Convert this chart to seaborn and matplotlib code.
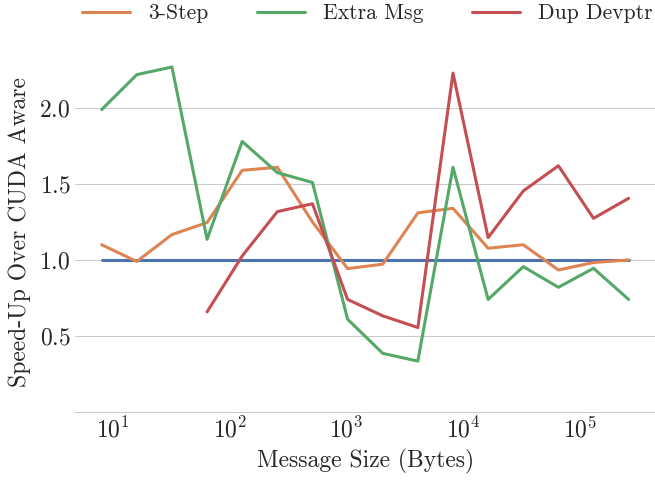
import numpy as np
import pandas as pd
import matplotlib
matplotlib.use("Agg")
import matplotlib.pyplot as plt
import seaborn as sns

# message sizes in bytes (x axis, log scale)
sizes = [8, 16, 32, 64, 128, 256, 512, 1024, 2048, 4096, 8192,
         16384, 32768, 65536, 131072, 262144]
# speed-up over the CUDA aware baseline
cuda_aware = [1.0] * 16
three_step = [1.10, 0.99, 1.167, 1.246, 1.59, 1.61, 1.25, 0.943, 0.972, 1.31, 1.34,
              1.077, 1.10, 0.934, 0.983, 1.00]
extra_msg = [1.99, 2.22, 2.27, 1.136, 1.78, 1.575, 1.51, 0.61, 0.385, 0.334, 1.61,
             0.74, 0.956, 0.82, 0.945, 0.74]
dup_devptr = [np.nan, np.nan, np.nan, 0.658, 1.026, 1.318, 1.37, 0.74, 0.632, 0.555, 2.23,
              1.147, 1.454, 1.62, 1.274, 1.406]

df = pd.DataFrame({"size": sizes, "CUDA Aware": cuda_aware, "3-Step": three_step,
                   "Extra Msg": extra_msg, "Dup Devptr": dup_devptr})

sns.set_style("whitegrid")
plt.rcParams["font.family"] = ["cmr10", "DejaVu Sans"]
plt.rcParams["mathtext.fontset"] = "cm"
plt.rcParams["axes.formatter.use_mathtext"] = True
pal = sns.color_palette("deep")

fig, ax = plt.subplots(figsize=(6.55, 4.8), dpi=100)
fig.subplots_adjust(left=0.115, right=1.0, bottom=0.142, top=0.892)

sns.lineplot(data=df, x="size", y="CUDA Aware", color=pal[0], lw=2.2, ax=ax, label="_nolegend_")
sns.lineplot(data=df, x="size", y="3-Step", color=pal[1], lw=2.2, ax=ax, label="3-Step")
sns.lineplot(data=df, x="size", y="Extra Msg", color=pal[2], lw=2.2, ax=ax, label="Extra Msg")
sns.lineplot(data=df.dropna(), x="size", y="Dup Devptr", color=pal[3], lw=2.2, ax=ax, label="Dup Devptr")

ax.set_xscale("log")
ax.set_ylim(0, 2.37)
ax.set_yticks([0.5, 1.0, 1.5, 2.0])
ax.grid(axis="x", visible=False)
ax.set_xlabel("Message Size (Bytes)", fontsize=17, labelpad=5)
ax.set_ylabel("Speed-Up Over CUDA Aware", fontsize=17, labelpad=6)
ax.tick_params(labelsize=17, length=0)
sns.despine(ax=ax, left=True)
ax.spines["bottom"].set_color("#cccccc")

ax.legend(loc="center", bbox_to_anchor=(0.561, 0.972), bbox_transform=fig.transFigure,
          ncol=3, frameon=False, fontsize=15.6, handlelength=2.2, columnspacing=2.25,
          handletextpad=0.85)

plt.savefig("out.png", dpi=100)
